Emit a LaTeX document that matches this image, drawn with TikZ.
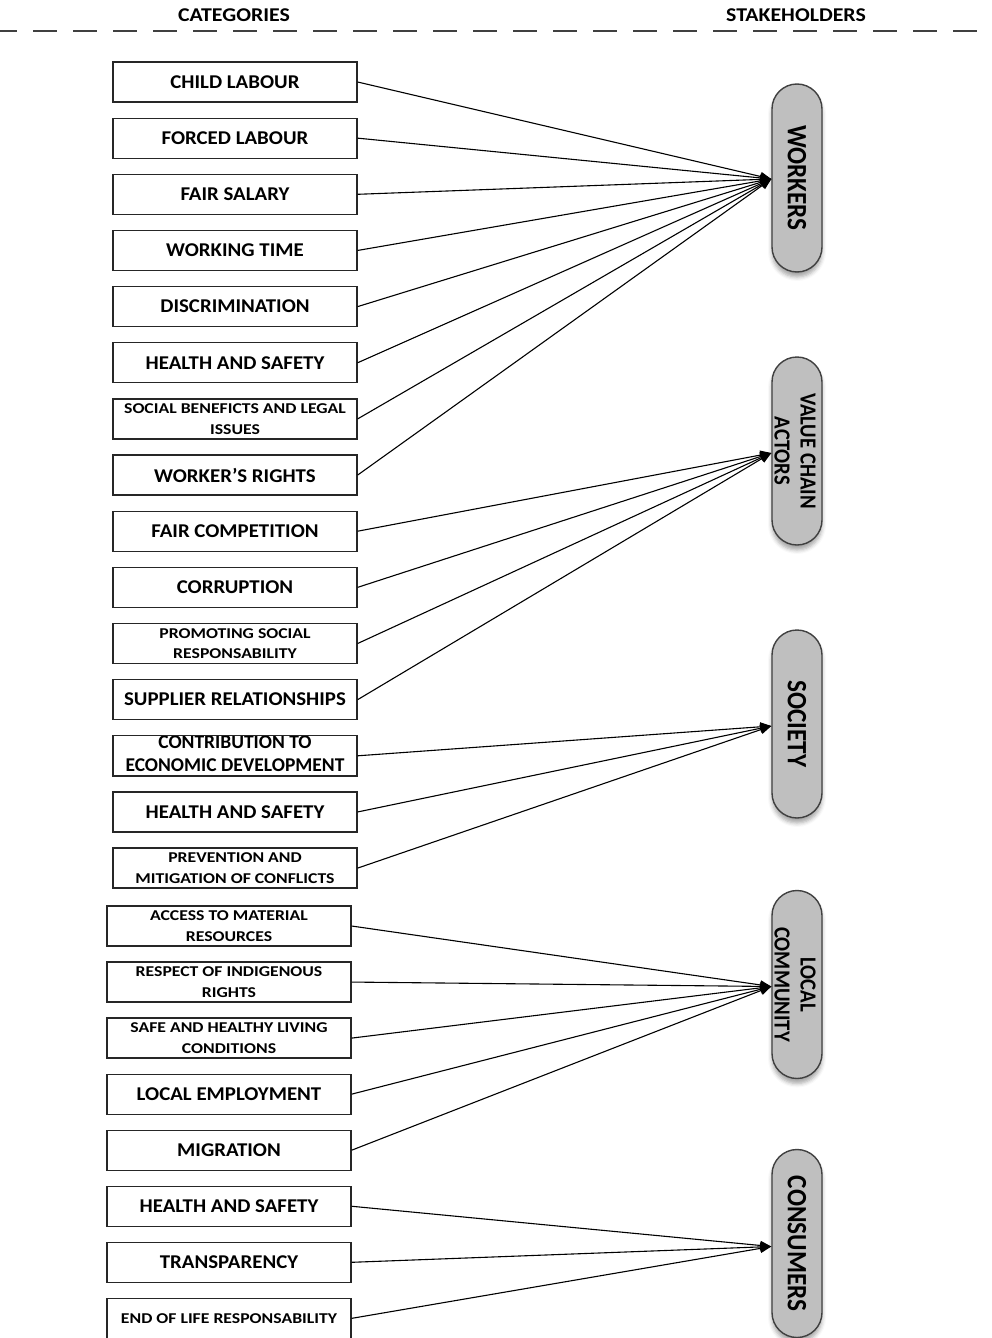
\documentclass[tikz,border=0pt]{standalone}
\usepackage{fontspec}
\setmainfont{Carlito}
\newfontfamily\labfont[FakeStretch=1.07]{Carlito}
\newfontfamily\smallfont[FakeStretch=1.18]{Carlito}
\newfontfamily\narrowfont[FakeStretch=1.0]{Carlito}
\newfontfamily\headfont[FakeStretch=1.12]{Carlito}
\newfontfamily\pillfont[FakeStretch=0.9]{Carlito}
\usetikzlibrary{arrows.meta,shadows.blur}

\tikzset{
  catbox/.style={draw=black!85, line width=1.3pt, fill=white,
    minimum width=244pt, minimum height=40pt, inner sep=0pt, align=center,
    font=\labfont\bfseries\fontsize{19.5}{22}\selectfont},
  smallbox/.style={catbox,
    font=\smallfont\bfseries\fontsize{15}{20.5}\selectfont},
  pill/.style={draw=black!75, line width=1.4pt, fill=black!25,
    rounded corners=25pt, minimum width=50pt, minimum height=188pt,
    inner sep=0pt,
    blur shadow={shadow xshift=0pt, shadow yshift=-5pt,
      shadow blur radius=4pt, shadow opacity=35}},
  pilltext/.style={rotate=-90, align=center, inner sep=0pt,
    font=\pillfont\bfseries\fontsize{28}{30}\selectfont},
  pilltwo/.style={pilltext,
    font=\pillfont\bfseries\fontsize{23}{26}\selectfont},
  head/.style={font=\headfont\bfseries\fontsize{19.5}{22}\selectfont, inner sep=0pt},
  conn/.style={draw=black, line width=1.1pt,
    -{Triangle[length=11pt,width=9pt]}},
}

\begin{document}
\begin{tikzpicture}[x=1pt,y=-1pt]
\useasboundingbox (0,0) rectangle (991,1338);

% headers and separator
\node[head] (cathead) at (234,15) {CATEGORIES};
\node[head] (stakehead) at (796,15) {STAKEHOLDERS};
\draw[black!75, line width=1.6pt, dash pattern=on 24pt off 16pt] (-7,31) -- (998,31);

% stakeholders
\node[pill] (workers) at (797,178) {};
\node[pilltext] at (workers.center) {WORKERS};
\node[pill] (vca) at (797,451) {};
\node[pilltwo] at ([xshift=-2pt]vca.center) {VALUE CHAIN\\ACTORS};
\node[pill] (society) at (797,724) {};
\node[pilltext] at (society.center) {SOCIETY};
\node[pill] (local) at (797,984.5) {};
\node[pilltwo] at ([xshift=-2pt]local.center) {LOCAL\\COMMUNITY};
\node[pill] (consumers) at (797,1243.5) {};
\node[pilltext] at (consumers.center) {CONSUMERS};

% categories, first column
\node[catbox] (c1) at (235,82) {CHILD LABOUR};
\node[catbox] (c2) at (235,138.15) {FORCED LABOUR};
\node[catbox] (c3) at (235,194.3) {FAIR SALARY};
\node[catbox] (c4) at (235,250.45) {WORKING TIME};
\node[catbox] (c5) at (235,306.6) {DISCRIMINATION};
\node[catbox] (c6) at (235,362.75) {HEALTH AND SAFETY};
\node[smallbox] (c7) at (235,418.9) {SOCIAL BENEFICTS AND LEGAL\\ISSUES};
\node[catbox] (c8) at (235,475.05) {WORKER’S RIGHTS};
\node[catbox] (c9) at (235,531.2) {FAIR COMPETITION};
\node[catbox] (c10) at (235,587.35) {CORRUPTION};
\node[smallbox] (c11) at (235,643.5) {PROMOTING SOCIAL\\RESPONSABILITY};
\node[catbox] (c12) at (235,699.65) {SUPPLIER RELATIONSHIPS};
\node[catbox] (c13) at (235,755.8) {};
\begin{scope}
  \clip (c13.south west) rectangle (c13.north east);
  \node[catbox, draw=none, fill=none, font=\narrowfont\bfseries\fontsize{19.5}{23}\selectfont]
    (c13t) at (235,753.5) {CONTRIBUTION TO\\ECONOMIC DEVELOPMENT};
\end{scope}
\draw[black!85, line width=1.3pt] (c13.south west) rectangle (c13.north east);
\node[catbox] (c14) at (235,811.95) {HEALTH AND SAFETY};
\node[smallbox] (c15) at (235,868.1) {PREVENTION AND\\MITIGATION OF CONFLICTS};

% categories, second column
\node[smallbox] (d1) at (229,926) {ACCESS TO MATERIAL\\RESOURCES};
\node[smallbox] (d2) at (229,982.05) {RESPECT OF INDIGENOUS\\RIGHTS};
\node[smallbox] (d3) at (229,1038.1) {SAFE AND HEALTHY LIVING\\CONDITIONS};
\node[catbox] (d4) at (229,1094.15) {LOCAL EMPLOYMENT};
\node[catbox] (d5) at (229,1150.2) {MIGRATION};
\node[catbox] (d6) at (229,1206.25) {HEALTH AND SAFETY};
\node[catbox] (d7) at (229,1262.3) {TRANSPARENCY};
\node[smallbox] (d8) at (229,1318.35) {END OF LIFE RESPONSABILITY};

% connectors
\foreach \n in {c1,c2,c3,c4,c5,c6,c7,c8}
  \draw[conn] (\n.east) -- ([yshift=-1pt]workers.west);
\foreach \n in {c9,c10,c11,c12}
  \draw[conn] (\n.east) -- ([yshift=-2pt]vca.west);
\foreach \n in {c13,c14,c15}
  \draw[conn] (\n.east) -- ([yshift=-2pt]society.west);
\foreach \n in {d1,d2,d3,d4,d5}
  \draw[conn] (\n.east) -- ([yshift=-2pt]local.west);
\foreach \n in {d6,d7,d8}
  \draw[conn] (\n.east) -- ([yshift=-3pt]consumers.west);
\end{tikzpicture}
\end{document}
